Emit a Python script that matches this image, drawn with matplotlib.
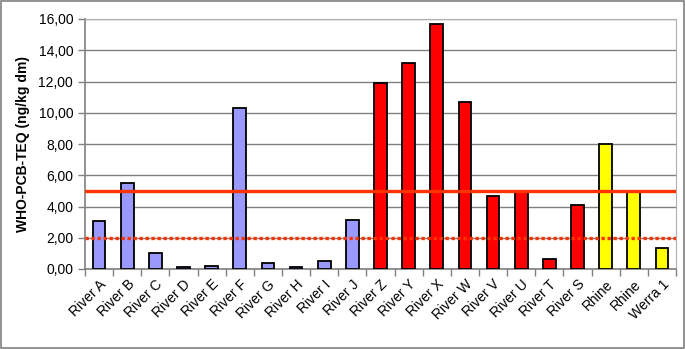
import matplotlib
matplotlib.use("Agg")
import matplotlib.pyplot as plt
from matplotlib.ticker import FuncFormatter, MultipleLocator, FixedLocator
import numpy as np

plt.rcParams['font.family'] = ['Liberation Sans', 'DejaVu Sans']

rivers = ["River A", "River B", "River C", "River D", "River E", "River F",
          "River G", "River H", "River I", "River J", "River Z", "River Y",
          "River X", "River W", "River V", "River U", "River T", "River S",
          "Rhine", "Rhine", "Werra 1"]
teq = [3.05, 5.48, 1.03, 0.13, 0.19, 10.33, 0.41, 0.15, 0.49, 3.12, 11.89,
       13.21, 15.70, 10.69, 4.68, 4.96, 0.67, 4.10, 7.98, 4.96, 1.37]
groups = ["blue"] * 10 + ["red"] * 8 + ["yellow"] * 3
group_colors = {"blue": "#9999FF", "red": "#FF0000", "yellow": "#FFFF00"}
limit_solid = 5.0
limit_dotted = 2.0

fig = plt.figure(figsize=(6.85, 3.49), dpi=100)
fig.patches.append(plt.Rectangle((0.002, 0.003), 0.996, 0.994, transform=fig.transFigure,
                                 fill=False, edgecolor="#808080", linewidth=1.2))
ax = fig.add_axes([85 / 685, 1 - 269 / 349, 591 / 685, 250 / 349])

x = np.arange(len(rivers))
ax.bar(x, teq, width=0.45, color=[group_colors[g] for g in groups],
       edgecolor="black", linewidth=1.3, zorder=3)

ax.axhline(limit_solid, color="#FF3300", linewidth=2.4, zorder=4)
ax.axhline(limit_dotted, color="#FF3300", linewidth=2.4,
           linestyle=(0, (1, 0.8)), dash_capstyle="butt", zorder=4)

ax.set_xlim(-0.5, len(rivers) - 0.5)
ax.set_ylim(0, 16)
ax.yaxis.set_major_locator(MultipleLocator(2))
ax.yaxis.set_major_formatter(FuncFormatter(lambda v, p: f"{v:.2f}".replace(".", ",")))
ax.grid(axis="y", color="#808080", linewidth=1.0, zorder=0)

ax.set_xticks(x)
ax.set_xticklabels(rivers, rotation=45, ha="right", rotation_mode="anchor", fontsize=10)
ax.tick_params(axis="x", length=0, pad=6)
ax.xaxis.set_minor_locator(FixedLocator(np.arange(-0.5, len(rivers), 1.0)))
ax.tick_params(axis="x", which="minor", length=5, color="#808080", width=1)
ax.tick_params(axis="y", length=5, color="#808080", width=1, labelsize=10)

for s in ["top", "right"]:
    ax.spines[s].set_color("#B0B0B0")
for s in ["left", "bottom"]:
    ax.spines[s].set_color("#808080")
    ax.spines[s].set_linewidth(1.2)

ax.set_ylabel("WHO-PCB-TEQ (ng/kg dm)", fontsize=10, fontweight="bold", labelpad=6)

fig.savefig("out.png", dpi=100)
